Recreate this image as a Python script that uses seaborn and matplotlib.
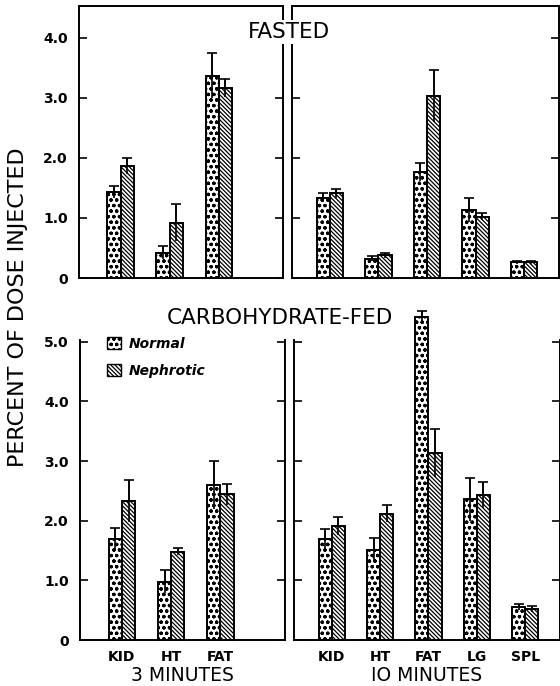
import matplotlib.pyplot as plt
import seaborn as sns
import pandas as pd
import numpy as np
from matplotlib.patches import Patch

cats_3 = ["KID", "HT", "FAT"]
cats_10 = ["KID", "HT", "FAT", "LG", "SPL"]
groups = ["Normal", "Nephrotic"]

# fasted, 3 minutes
fast3_normal = [1.43, 0.42, 3.37]
fast3_normal_err = [0.10, 0.11, 0.38]
fast3_neph = [1.87, 0.92, 3.17]
fast3_neph_err = [0.13, 0.31, 0.15]

# fasted, 10 minutes
fast10_normal = [1.34, 0.32, 1.76, 1.14, 0.26]
fast10_normal_err = [0.07, 0.04, 0.15, 0.20, 0.03]
fast10_neph = [1.41, 0.38, 3.03, 1.02, 0.26]
fast10_neph_err = [0.08, 0.04, 0.44, 0.06, 0.03]

# carbohydrate-fed, 3 minutes
carb3_normal = [1.69, 0.98, 2.60]
carb3_normal_err = [0.18, 0.20, 0.40]
carb3_neph = [2.33, 1.48, 2.44]
carb3_neph_err = [0.35, 0.06, 0.18]

# carbohydrate-fed, 10 minutes
carb10_normal = [1.70, 1.51, 5.42, 2.36, 0.56]
carb10_normal_err = [0.16, 0.20, 0.10, 0.36, 0.05]
carb10_neph = [1.91, 2.12, 3.14, 2.43, 0.52]
carb10_neph_err = [0.15, 0.14, 0.40, 0.22, 0.05]

hatches = ["ooo", "\\" * 8]

sns.set_style("ticks")
plt.rcParams["font.family"] = ["DejaVu Sans"]
plt.rcParams["hatch.linewidth"] = 0.9
plt.rcParams["axes.linewidth"] = 1.4
for key in ["text.color", "axes.labelcolor", "xtick.color", "ytick.color",
            "axes.edgecolor"]:
    plt.rcParams[key] = "black"

fig = plt.figure(figsize=(5.6, 6.86), dpi=100)
W, H = 560, 686


def px_axes(x0, y0, x1, y1):
    return fig.add_axes([x0 / W, 1 - y1 / H, (x1 - x0) / W, (y1 - y0) / H])


def panel(ax, cats, normal, normal_err, neph, neph_err, ymax, ticks, xlim,
          top_spine=True, labels=False, xlabel=None):
    df = pd.DataFrame({
        "organ": cats * 2,
        "value": normal + neph,
        "group": ["Normal"] * len(cats) + ["Nephrotic"] * len(cats),
    })
    sns.barplot(data=df, x="organ", y="value", hue="group", hue_order=groups,
                palette=["white", "white"], width=0.54, errorbar=None,
                edgecolor="black", linewidth=1.4, legend=False, ax=ax)
    for container, hatch, err in zip(ax.containers, hatches, [normal_err, neph_err]):
        xs, ys = [], []
        for bar in container:
            bar.set_hatch(hatch)
            bar.set_clip_on(False)
            xs.append(bar.get_x() + bar.get_width() / 2)
            ys.append(bar.get_height())
        err = np.array(err)
        ax.errorbar(xs, ys, yerr=[err, err], fmt="none", ecolor="black",
                    elinewidth=1.2, capsize=0, clip_on=False, zorder=5)
        ax.errorbar(xs, ys, yerr=[np.zeros_like(err), err], fmt="none",
                    ecolor="black", elinewidth=1.2, capsize=3.5, capthick=1.2,
                    clip_on=False, zorder=5)
    ax.set_xlim(*xlim)
    ax.set_ylim(0, ymax)
    ax.set_yticks(ticks)
    ax.tick_params(axis="y", direction="in", length=6, width=1.2, left=True,
                   right=True, labelsize=10, pad=8)
    ax.tick_params(axis="x", length=0, labelsize=10, pad=7)
    if labels:
        ax.set_yticklabels(["0"] + [f"{t:.1f}" for t in ticks[1:]],
                           fontweight="bold")
    else:
        ax.set_yticklabels([])
    if xlabel is None:
        ax.set_xticklabels([])
        ax.set_xlabel("")
    else:
        ax.set_xticks(range(len(cats)))
        ax.set_xticklabels(cats, fontweight="bold")
        ax.set_xlabel(xlabel, fontsize=13.5, labelpad=1.5)
    ax.set_ylabel("")
    ax.spines["top"].set_visible(top_spine)
    for s in ax.spines.values():
        s.set_linewidth(1.4)


ax1 = px_axes(79, 6, 283, 278)
ax2 = px_axes(292, 6, 559, 278)
ax3 = px_axes(80, 340, 285, 640)
ax4 = px_axes(294, 340, 560, 640)

fast_ticks = [0, 1, 2, 3, 4]
carb_ticks = [0, 1, 2, 3, 4, 5]
xlim3 = (-0.85, 3.31)
xlim10 = (-0.78, 4.72)

panel(ax1, cats_3, fast3_normal, fast3_normal_err, fast3_neph, fast3_neph_err,
      4.53, fast_ticks, xlim3, labels=True)
panel(ax2, cats_10, fast10_normal, fast10_normal_err, fast10_neph, fast10_neph_err,
      4.53, fast_ticks, xlim10)
panel(ax3, cats_3, carb3_normal, carb3_normal_err, carb3_neph, carb3_neph_err,
      5.03, carb_ticks, xlim3, top_spine=False, labels=True, xlabel="3 MINUTES")
panel(ax4, cats_10, carb10_normal, carb10_normal_err, carb10_neph, carb10_neph_err,
      5.03, carb_ticks, xlim10, top_spine=False, xlabel="IO MINUTES")

handles = [Patch(facecolor="white", edgecolor="black", hatch=h) for h in hatches]
ax3.legend(handles, groups, loc="upper left", bbox_to_anchor=(0.13, 1.01),
           frameon=False, handlelength=1.0, handleheight=1.0, handletextpad=0.6,
           labelspacing=0.9, borderpad=0, borderaxespad=0,
           prop={"weight": "bold", "style": "italic", "size": 10})

fig.text(289 / W, 1 - 32 / H, "FASTED", ha="center", va="center", fontsize=15.5,
         bbox=dict(facecolor="white", edgecolor="none", pad=1.5), zorder=10)
fig.text(280 / W, 1 - 318 / H, "CARBOHYDRATE-FED", ha="center", va="center",
         fontsize=15.5, zorder=10)
fig.text(18 / W, 1 - 307 / H, "PERCENT OF DOSE INJECTED", ha="center",
         va="center", rotation=90, fontsize=16)

fig.savefig("out.png", dpi=100)
